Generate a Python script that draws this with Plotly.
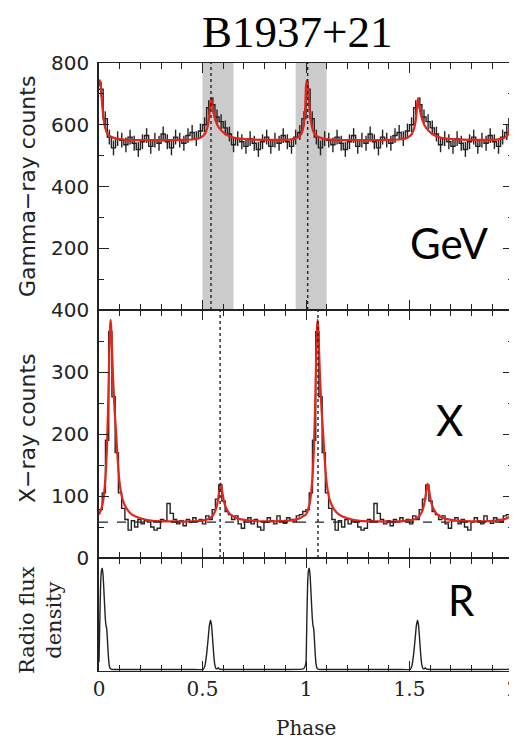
import numpy as np
import plotly.graph_objects as go

# ---------------- data (one rotation; the plot shows two rotations) ----------------
# Gamma-ray histogram, 50 phase bins per rotation
gamma_counts = [715, 620, 560, 525, 555, 550, 535, 560, 540, 520,
                545, 565, 530, 550, 540, 570, 545, 525, 560, 550,
                540, 565, 575, 555, 580, 600, 655, 665, 625, 610,
                590, 570, 535, 555, 545, 530, 555, 540, 520, 545,
                560, 530, 550, 540, 565, 545, 530, 560, 575, 620]
gamma_err = 24

# Gamma-ray fitted profile (red)
gamma_fit_phase = [0.000, 0.004, 0.010, 0.016, 0.022, 0.030, 0.040, 0.055, 0.080, 0.120,
                   0.200, 0.300, 0.400, 0.460, 0.490, 0.505, 0.515, 0.525, 0.532, 0.537,
                   0.541, 0.545, 0.550, 0.557, 0.565, 0.575, 0.590, 0.610, 0.640, 0.680,
                   0.750, 0.850, 0.920, 0.950, 0.970, 0.985, 0.995]
gamma_fit_counts = [725, 745, 715, 660, 620, 590, 572, 562, 556, 552,
                    550, 550, 551, 553, 558, 565, 575, 595, 625, 665,
                    686, 672, 650, 628, 610, 595, 582, 570, 560, 555,
                    552, 551, 552, 556, 563, 585, 640]

# X-ray histogram, 64 phase bins per rotation
xray_counts = [78, 105, 190, 365, 260, 170, 105, 80, 62, 45,
               60, 50, 62, 55, 60, 58, 50, 45, 48, 62,
               60, 88, 72, 62, 55, 60, 52, 62, 58, 65,
               60, 62, 55, 68, 62, 78, 95, 118, 92, 75,
               70, 62, 68, 55, 48, 60, 65, 55, 62, 50,
               45, 58, 65, 60, 55, 68, 60, 56, 65, 62,
               58, 68, 70, 75]
xray_baseline = 58

# X-ray fitted profile (red)
xray_fit_phase = [0.000, 0.010, 0.020, 0.030, 0.038, 0.044, 0.049, 0.053, 0.056, 0.059,
                  0.063, 0.068, 0.075, 0.083, 0.092, 0.102, 0.115, 0.135, 0.160, 0.200,
                  0.260, 0.350, 0.450, 0.510, 0.540, 0.556, 0.570, 0.580, 0.588, 0.595,
                  0.603, 0.615, 0.632, 0.660, 0.710, 0.800, 0.900, 0.950, 0.975, 0.990]
xray_fit_counts = [70, 78, 92, 125, 175, 245, 320, 370, 384, 372,
                   335, 290, 240, 200, 150, 115, 93, 79, 70, 64,
                   60, 59, 59, 61, 65, 72, 85, 105, 120, 108,
                   92, 80, 71, 65, 61, 59, 60, 62, 65, 68]

# Radio profile (normalised flux density)
radio_phase = [0.000, 0.004, 0.008, 0.012, 0.016, 0.020, 0.025, 0.030, 0.034, 0.037,
               0.040, 0.044, 0.048, 0.053, 0.060, 0.100, 0.300, 0.450, 0.504, 0.512,
               0.520, 0.527, 0.533, 0.539, 0.544, 0.549, 0.554, 0.559, 0.564, 0.572,
               0.576, 0.582, 0.600, 0.750, 0.900, 0.970, 0.988, 0.996]
radio_flux = [0.08, 0.45, 0.78, 0.89, 0.91, 0.84, 0.66, 0.48, 0.40, 0.38,
              0.30, 0.17, 0.07, 0.025, 0.015, 0.013, 0.013, 0.013, 0.015, 0.05,
              0.15, 0.28, 0.40, 0.45, 0.40, 0.28, 0.15, 0.06, 0.025, 0.02,
              0.03, 0.016, 0.013, 0.013, 0.013, 0.014, 0.02, 0.045]

gamma_bands = [(0.50, 0.65), (0.95, 1.10)]
gamma_peak_lines = [0.541, 1.008]
xray_peak_lines = [0.585, 1.058]

x_tickvals = [0, 0.5, 1, 1.5, 2]
x_ticktext = ["0", "0.5", "1", "1.5", "2"]
gamma_tickvals = [200, 400, 600, 800]
xray_tickvals = [0, 100, 200, 300, 400]

title_text = "B1937+21"
panel_labels = ["GeV", "X", "R"]
n_rot = 2

# ---------------- helpers ----------------
def two_rot(phase, values, close=True):
    ph = np.concatenate([np.asarray(phase) + k for k in range(n_rot)])
    v = np.concatenate([np.asarray(values)] * n_rot)
    if close:
        ph = np.append(ph, n_rot)
        v = np.append(v, values[0])
    return ph, v

def hist_steps(counts):
    nb = len(counts)
    vals = np.concatenate([np.asarray(counts)] * n_rot)
    edges = np.linspace(0, n_rot, nb * n_rot + 1)
    ys = np.append(vals, vals[-1])
    centers = 0.5 * (edges[:-1] + edges[1:])
    return edges, ys, centers, vals

# page pixels (the browser page has an 8px body margin)
PAGE_W, PAGE_H = 517, 741
BODY = 8
W, H = PAGE_W - BODY, PAGE_H - BODY
ML, MR, MT, MB = 99, 4, 63, 70          # in page pixels
PW, PH = PAGE_W - ML - MR, PAGE_H - MT - MB

def px(x):
    return (x - ML) / PW

def py(y):
    return (PAGE_H - MB - y) / PH

TOP = [py(310), 1.0]
MID = [py(558), py(310)]
BOT = [0.0, py(558)]

INK = "#222222"
RED = "#e3261c"

fig = go.Figure()

# Gamma
gx, gy, gc, gv = hist_steps(gamma_counts)
fig.add_trace(go.Scatter(x=gx, y=gy, mode="lines", line=dict(shape="hv", color=INK, width=1.4),
                         xaxis="x", yaxis="y", hoverinfo="skip"))
fig.add_trace(go.Scatter(x=gc, y=gv, mode="markers", marker=dict(size=1, color="rgba(0,0,0,0)"),
                         error_y=dict(type="constant", value=gamma_err, width=0, thickness=1.4, color=INK),
                         xaxis="x", yaxis="y", hoverinfo="skip"))
fx, fy = two_rot(gamma_fit_phase, gamma_fit_counts)
fig.add_trace(go.Scatter(x=fx, y=fy, mode="lines", line=dict(color=RED, width=2.2, shape="spline", smoothing=0.5),
                         xaxis="x", yaxis="y"))

# X-ray
xx, xy, xc, xv = hist_steps(xray_counts)
fig.add_trace(go.Scatter(x=xx, y=xy, mode="lines", line=dict(shape="hv", color=INK, width=1.4),
                         xaxis="x2", yaxis="y2"))
fx, fy = two_rot(xray_fit_phase, xray_fit_counts)
fig.add_trace(go.Scatter(x=fx, y=fy, mode="lines", line=dict(color=RED, width=2.2, shape="spline", smoothing=0.5),
                         xaxis="x2", yaxis="y2"))

# Radio
rx, ry = two_rot(radio_phase, radio_flux)
fig.add_trace(go.Scatter(x=rx, y=ry, mode="lines", line=dict(color=INK, width=1.4, shape="spline", smoothing=0.4),
                         xaxis="x3", yaxis="y3"))

shapes = []
for a, b in gamma_bands:
    shapes.append(dict(type="rect", xref="x", yref="y domain", x0=a, x1=b, y0=0, y1=1,
                       fillcolor="#cbcbcb", line=dict(width=0), layer="below"))
for p in gamma_peak_lines:
    shapes.append(dict(type="line", xref="x", yref="y domain", x0=p, x1=p, y0=0, y1=1,
                       line=dict(color=INK, width=1.4, dash="dot")))
for p in xray_peak_lines:
    shapes.append(dict(type="line", xref="x2", yref="y2 domain", x0=p, x1=p, y0=0, y1=1,
                       line=dict(color=INK, width=1.4, dash="dot")))
shapes.append(dict(type="line", xref="x2 domain", yref="y2", x0=0, x1=1, y0=xray_baseline, y1=xray_baseline,
                   line=dict(color=INK, width=1.2, dash="dash")))

sans = "DejaVu Sans"
serif = "DejaVu Serif"

common_x = dict(range=[0, n_rot], showline=True, linecolor=INK, linewidth=1.3, mirror="ticks",
                ticks="inside", ticklen=10, tickwidth=1.3, tickcolor=INK, automargin=False,
                tickvals=x_tickvals, ticktext=x_ticktext, showgrid=False, zeroline=False,
                minor=dict(dtick=0.1, ticks="inside", ticklen=6, tickwidth=1.3, tickcolor=INK, showgrid=False))
common_y = dict(showline=True, linecolor=INK, linewidth=1.5, mirror="ticks",
                ticks="inside", ticklen=10, tickwidth=1.3, tickcolor=INK, automargin=False,
                showgrid=False, zeroline=False,
                tickfont=dict(family=sans, size=20, color=INK), ticklabelstandoff=4)

annotations = [
    dict(text=title_text, x=px(297), y=py(32), xref="paper", yref="paper", showarrow=False,
         font=dict(family="Liberation Serif", size=45, color="black"), xanchor="center", yanchor="middle",
         borderpad=0),
    dict(text="Gamma\u2212ray counts", x=px(27), y=py(187), xref="paper", yref="paper", showarrow=False,
         textangle=-90, font=dict(family=sans, size=22, color=INK), xanchor="center", yanchor="middle"),
    dict(text="X\u2212ray counts", x=px(27), y=py(428), xref="paper", yref="paper", showarrow=False,
         textangle=-90, font=dict(family=sans, size=22, color=INK), xanchor="center", yanchor="middle"),
    dict(text="Radio flux<br>density", x=px(40), y=py(620), xref="paper", yref="paper", showarrow=False,
         textangle=-90, font=dict(family=serif, size=21, color=INK), xanchor="center", yanchor="middle"),
    dict(text="Phase", x=px(306), y=py(728), xref="paper", yref="paper", showarrow=False,
         font=dict(family=serif, size=20, color=INK), xanchor="center", yanchor="middle"),
    dict(text=panel_labels[0], x=px(449), y=py(243), xref="paper", yref="paper", showarrow=False,
         font=dict(family="Lato", size=42, color="black"), xanchor="center", yanchor="middle"),
    dict(text=panel_labels[1], x=px(449), y=py(420), xref="paper", yref="paper", showarrow=False,
         font=dict(family="Lato", size=42, color="black"), xanchor="center", yanchor="middle"),
    dict(text=panel_labels[2], x=px(461), y=py(600), xref="paper", yref="paper", showarrow=False,
         font=dict(family="Lato", size=42, color="black"), xanchor="center", yanchor="middle"),
]

fig.update_layout(
    width=W, height=H,
    margin=dict(l=ML - BODY, r=MR, t=MT - BODY, b=MB, autoexpand=False),
    paper_bgcolor="white", plot_bgcolor="white", showlegend=False,
    xaxis=dict(common_x, anchor="y", domain=[0, 1], showticklabels=False),
    xaxis2=dict(common_x, anchor="y2", domain=[0, 1], matches="x", showticklabels=False),
    xaxis3=dict(common_x, anchor="y3", domain=[0, 1], matches="x", showticklabels=True,
                ticklabeloverflow="allow",
                tickfont=dict(family=serif, size=20, color=INK)),
    yaxis=dict(common_y, domain=TOP, range=[0, 800], tickvals=gamma_tickvals,
               minor=dict(dtick=100, ticks="inside", ticklen=5, tickwidth=1.3, tickcolor=INK, showgrid=False)),
    yaxis2=dict(common_y, domain=MID, range=[0, 400], tickvals=xray_tickvals,
                minor=dict(dtick=50, ticks="inside", ticklen=5, tickwidth=1.3, tickcolor=INK, showgrid=False)),
    yaxis3=dict(domain=BOT, range=[0, 1], showline=True, linecolor=INK, linewidth=1.5, mirror=True,
                ticks="", showticklabels=False, showgrid=False, zeroline=False, automargin=False),
    shapes=shapes, annotations=annotations,
)

fig.write_html("out.html")
